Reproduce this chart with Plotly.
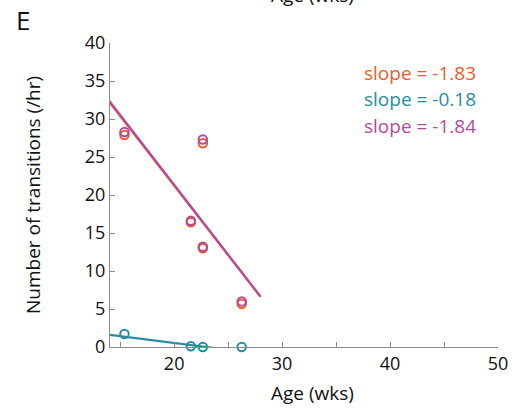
import plotly.graph_objects as go

# Age (weeks) of each recording
age_wks = [15.4, 21.55, 22.66, 22.66, 26.26]
age_wks_teal = [15.4, 21.55, 22.66, 26.26]

# Number of transitions per hour for each group
orange_vals = [27.9, 16.4, 26.8, 13.0, 5.7]
purple_vals = [28.3, 16.6, 27.3, 13.2, 6.0]
teal_vals = [1.7, 0.1, 0.0, 0.0]

# Linear fits: slope and intercept per group, with the x extent of each fit
slopes = [-1.83, -0.18, -1.84]
intercepts = [57.85, 4.13, 58.15]
fit_x = [[14.0, 28.0], [14.0, 23.9], [14.0, 28.0]]

colors = ["#EE5B2B", "#2A8B9E", "#B6499C"]

x_ticks = [15, 20, 25, 30, 35, 40, 45, 50]
x_ticktext = ["", "20", "", "30", "", "40", "", "50"]
y_ticks = [0, 5, 10, 15, 20, 25, 30, 35, 40]

FONT = "Open Sans, Noto Sans, sans-serif"

L, R, T, B = 110, 17, 43, 61
W, H = 515, 408
PW, PH = W - L - R, H - T - B


def px_to_paper(px, py):
    return (px - L) / PW, (H - B - py) / PH


fig = go.Figure()

# fitted lines (orange first, then teal, purple on top)
for i in [0, 1, 2]:
    xs = fit_x[i]
    ys = [intercepts[i] + slopes[i] * x for x in xs]
    fig.add_trace(go.Scatter(x=xs, y=ys, mode="lines",
                             line=dict(color=colors[i], width=2.2),
                             showlegend=False, hoverinfo="skip"))

marker_style = dict(symbol="circle-open", size=8.5, line=dict(width=2))
for xs, ys, c in [(age_wks, orange_vals, colors[0]),
                  (age_wks_teal, teal_vals, colors[1]),
                  (age_wks, purple_vals, colors[2])]:
    fig.add_trace(go.Scatter(x=xs, y=ys, mode="markers",
                             marker=dict(color=c, **marker_style),
                             cliponaxis=False, showlegend=False))

axis_common = dict(showline=True, linecolor="#8c8c8c", linewidth=1.2,
                   ticks="inside", ticklen=5, tickcolor="#8c8c8c",
                   showgrid=False, zeroline=False, automargin=False,
                   tickfont=dict(family=FONT, size=18, color="#111"))

fig.update_xaxes(range=[14.06, 50], tickvals=x_ticks, ticktext=x_ticktext,
                 **axis_common)
fig.update_yaxes(range=[0, 40], tickvals=y_ticks, **axis_common)

annotations = []
for i, y in zip([0, 1, 2], [73, 99, 126]):
    ax, ay = px_to_paper(478, y)
    annotations.append(dict(text=f"slope = {slopes[i]:.2f}", xref="paper", yref="paper",
                            x=ax, y=ay, xanchor="right", yanchor="middle", showarrow=False,
                            font=dict(family=FONT, size=19, color=colors[i])))

# panel letters and axis titles
for text, px, py, size, anchor_x in [
    ("E", 14, 20, 26, "left"),
    ("F", 14, 421, 26, "left"),
    ("Age (wks)", 312, 393, 19, "center"),
    ("Age (wks)", 312, -5, 19, "center"),
]:
    ax, ay = px_to_paper(px, py)
    annotations.append(dict(text=text, xref="paper", yref="paper",
                            x=ax, y=ay, xanchor=anchor_x, yanchor="middle", showarrow=False,
                            font=dict(family=FONT, size=size, color="#111")))

ax, ay = px_to_paper(33, 195)
annotations.append(dict(text="Number of transitions (/hr)", xref="paper", yref="paper",
                        x=ax, y=ay, textangle=-90,
                        xanchor="center", yanchor="middle", showarrow=False,
                        font=dict(family=FONT, size=19, color="#111")))

fig.update_layout(width=W, height=H,
                  margin=dict(l=L, r=R, t=T, b=B, autoexpand=False),
                  paper_bgcolor="white", plot_bgcolor="white",
                  annotations=annotations)

fig.write_html("out.html")
